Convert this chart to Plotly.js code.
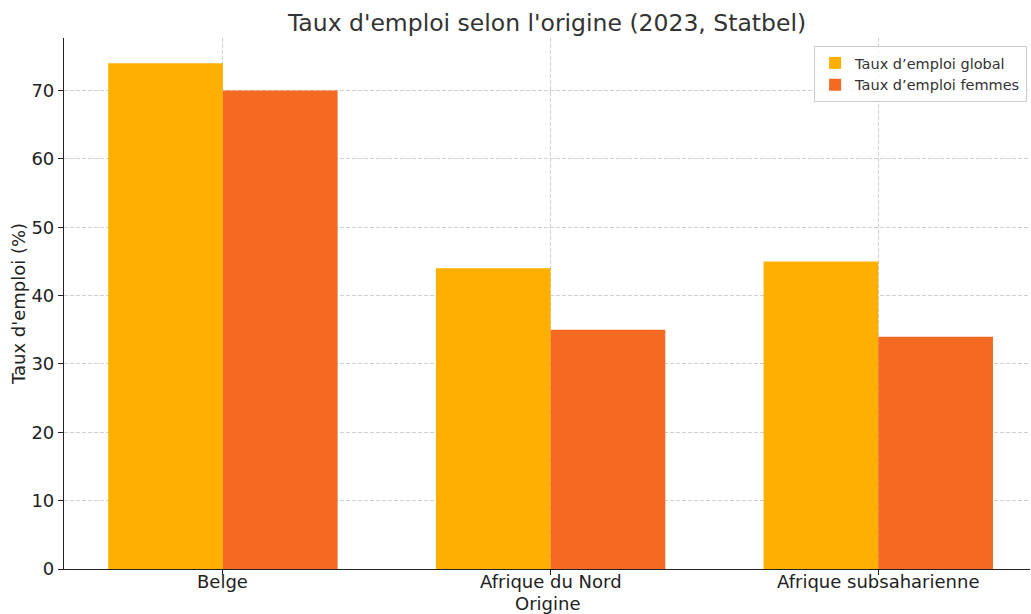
<!DOCTYPE html>
<html><head><meta charset="utf-8">
<script src="https://cdn.plot.ly/plotly-3.0.1.min.js"></script>
<style>html,body{margin:0;padding:0;background:#fff}</style>
</head><body>
<div id="chart" style="width:1031px;height:614px"></div>
<script>
const categories = ["Belge", "Afrique du Nord", "Afrique subsaharienne"];
const tauxGlobal = [74, 44, 45];
const tauxFemmes = [70, 35, 34];
const yTicks = [0, 10, 20, 30, 40, 50, 60, 70];

const xIdx = categories.map((_, i) => i);
const w = 0.35;
const font = "DejaVu Sans, sans-serif";

const traces = [
  {type: "bar", name: "Taux d’emploi global", x: xIdx.map(i => i - w/2), y: tauxGlobal,
   width: w, marker: {color: "#FFAF00"}},
  {type: "bar", name: "Taux d’emploi femmes", x: xIdx.map(i => i + w/2), y: tauxFemmes,
   width: w, marker: {color: "#F46A22"}}
];

const catLabels = categories.map((c, i) => ({
  text: c, x: i, xref: "x", y: 0, yref: "y", yanchor: "top", xanchor: "center",
  yshift: -1, borderpad: 0, showarrow: false, font: {family: font, size: 18, color: "#222"}
}));

const layout = {
  width: 1031, height: 614,
  margin: {l: 64, r: 1, t: 38, b: 45},
  paper_bgcolor: "#fff", plot_bgcolor: "#fff",
  barmode: "overlay",
  font: {family: font, color: "#222", size: 18},
  title: {text: "Taux d'emploi selon l'origine (2023, Statbel)", font: {family: font, size: 23.5, color: "#333"},
          xref: "paper", x: 0.5, xanchor: "center", y: 0.963, yanchor: "middle"},
  xaxis: {range: [-0.485, 2.463], tickvals: xIdx, ticktext: categories.map(() => ""),
          showgrid: true, gridcolor: "#cfcfcf", griddash: "4px,2px", gridwidth: 1,
          showline: true, linecolor: "#222", linewidth: 1.2,
          ticks: "outside", ticklen: 5, tickcolor: "#222", zeroline: false,
          tickfont: {size: 18, color: "#222"}},
  yaxis: {range: [0, 77.7], tickvals: yTicks,
          showgrid: true, gridcolor: "#cfcfcf", griddash: "4px,2px", gridwidth: 1,
          showline: true, linecolor: "#222", linewidth: 1.2,
          ticks: "outside", ticklen: 5, tickcolor: "#222", zeroline: false,
          tickfont: {size: 18, color: "#222"},
          title: {text: "Taux d'emploi (%)", font: {size: 18, color: "#222"}, standoff: 1}},
  annotations: catLabels.concat([{
    text: "Origine", xref: "paper", x: 0.5, xanchor: "center", yref: "paper", y: 0,
    yanchor: "top", yshift: -23, borderpad: 0, showarrow: false, font: {family: font, size: 18, color: "#222"}
  }]),
  legend: {x: 0.997, xanchor: "right", y: 0.985, yanchor: "top",
           bgcolor: "rgba(255,255,255,0.8)", bordercolor: "#ccc", borderwidth: 1,
           font: {size: 14.5, color: "#333"}, tracegroupgap: 0},
  showlegend: true
};

Plotly.newPlot("chart", traces, layout, {displayModeBar: false});
</script>
</body></html>
